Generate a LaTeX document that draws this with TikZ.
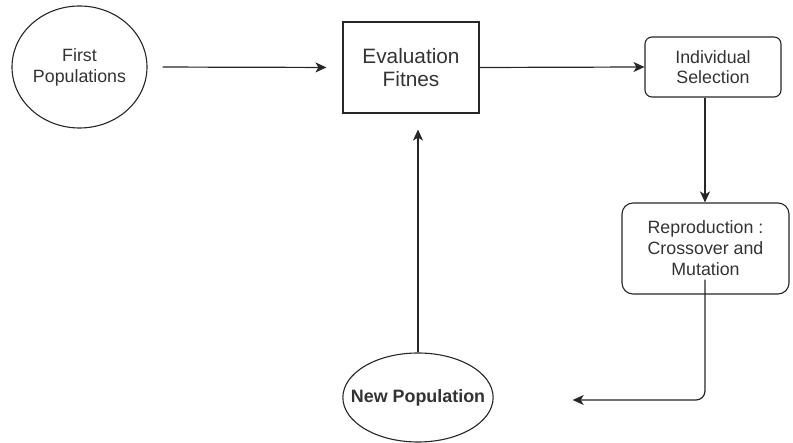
\documentclass[tikz,border=0pt]{standalone}
\usepackage{fontspec}
\setmainfont{Liberation Sans}
\usetikzlibrary{shapes.geometric,arrows.meta}
\definecolor{txt}{HTML}{333333}
\tikzset{
  base/.style={draw=black!85, line width=1.1pt, text=txt, align=center, inner sep=0pt, font=\fontsize{17.8}{21}\selectfont},
  ell/.style={base, ellipse},
  sqbox/.style={base, rectangle},
  rbox/.style={base, rectangle, rounded corners=#1},
  conn/.style={draw=black!85, line width=1.2pt, -{Stealth[length=11pt,width=10pt,inset=3pt]}},
}
\begin{document}
\begin{tikzpicture}[x=1pt,y=-1pt]
\useasboundingbox (0,0) rectangle (793,443);
\node[ell, minimum width=135pt, minimum height=122pt] (first) at (79.5,67) {First\\Populations};
\node[sqbox, minimum width=136pt, minimum height=91pt, font=\fontsize{20.8}{23}\selectfont] (eval) at (411,67.5) {Evaluation\\Fitnes};
\node[rbox=7pt, minimum width=136pt, minimum height=60pt, font=\fontsize{17.8}{20}\selectfont] (sel) at (713,67) {Individual\\Selection};
\node[rbox=11pt, minimum width=167pt, minimum height=91pt] (rep) at (705.5,248.5) {Reproduction :\\Crossover and\\Mutation};
\node[ell, inner xsep=-14pt, minimum width=150pt, minimum height=89pt, font=\bfseries\fontsize{17.9}{21}\selectfont] (new) at (418,397.5) {New Population};
\coordinate (turn) at (705,400);
\draw[conn, shorten <=15pt, shorten >=16pt] (first.east) -- (eval.west);
\draw[conn] (eval.east) -- (sel.west);
\draw[conn] (sel.south -| turn) -- (rep.north -| turn);
\draw[conn, rounded corners=9pt] ([yshift=15pt]rep.south -| turn) -- (turn) -- ([xshift=79pt]new.east |- turn);
\draw[conn, shorten >=16pt] (new.north) -- (eval.south -| new.north);
\end{tikzpicture}
\end{document}
